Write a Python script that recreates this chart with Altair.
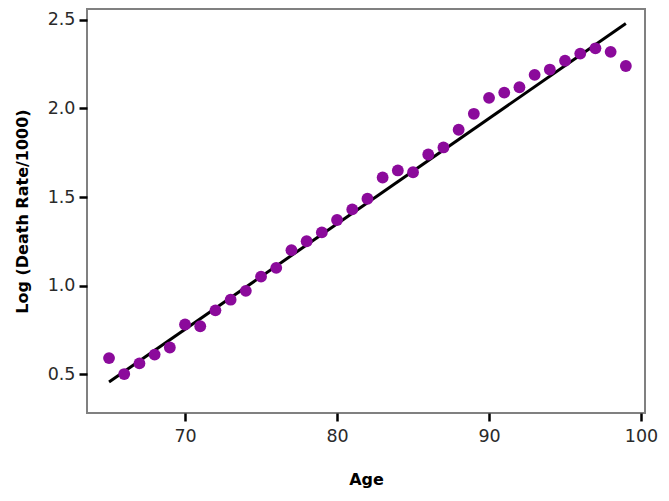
import altair as alt
import pandas as pd

ages = list(range(65, 100))
log_rates = [0.59, 0.50, 0.56, 0.61, 0.65, 0.78, 0.77, 0.86, 0.92, 0.97,
             1.05, 1.10, 1.20, 1.25, 1.30, 1.37, 1.43, 1.49, 1.61, 1.65,
             1.64, 1.74, 1.78, 1.88, 1.97, 2.06, 2.09, 2.12, 2.19, 2.22,
             2.27, 2.31, 2.34, 2.32, 2.24]

fit_ages = [65, 99]
fit_values = [0.455, 2.48]

df = pd.DataFrame({"Age": ages, "LogRate": log_rates})
fit = pd.DataFrame({"Age": fit_ages, "LogRate": fit_values})

FONT = "DejaVu Sans"

x = alt.X("Age:Q", title="Age",
          scale=alt.Scale(domain=[63.55, 100.26], nice=False, zero=False),
          axis=alt.Axis(values=[70, 80, 90, 100], format="d"))
y = alt.Y("LogRate:Q", title="Log (Death Rate/1000)",
          scale=alt.Scale(domain=[0.28, 2.562], nice=False, zero=False),
          axis=alt.Axis(values=[0.5, 1.0, 1.5, 2.0, 2.5], format=".1f"))

line = alt.Chart(fit).mark_line(color="black", strokeWidth=3).encode(x=x, y=y)
pts = alt.Chart(df).mark_circle(color="#8B0A9B", opacity=1, size=140).encode(x=x, y=y)

chart = (alt.layer(line, pts)
         .properties(width=558, height=404,
                     autosize=alt.AutoSizeParams(type="none"),
                     padding={"left": 79, "top": 1, "right": 16, "bottom": 80})
         .configure_view(stroke="#808080", strokeWidth=2)
         .configure_axis(domain=False, grid=False, tickColor="black", tickWidth=2.5,
                         tickSize=8, labelFont=FONT, labelFontSize=17.5,
                         labelColor="#2a2a2a", titleFont=FONT, titleFontSize=16,
                         titleFontWeight="bold", titleColor="black", labelPadding=4)
         .configure_axisX(titlePadding=27, labelPadding=6)
         .configure_axisY(titlePadding=17))

chart.save("out.html", embed_options={"renderer": "svg", "actions": False})
